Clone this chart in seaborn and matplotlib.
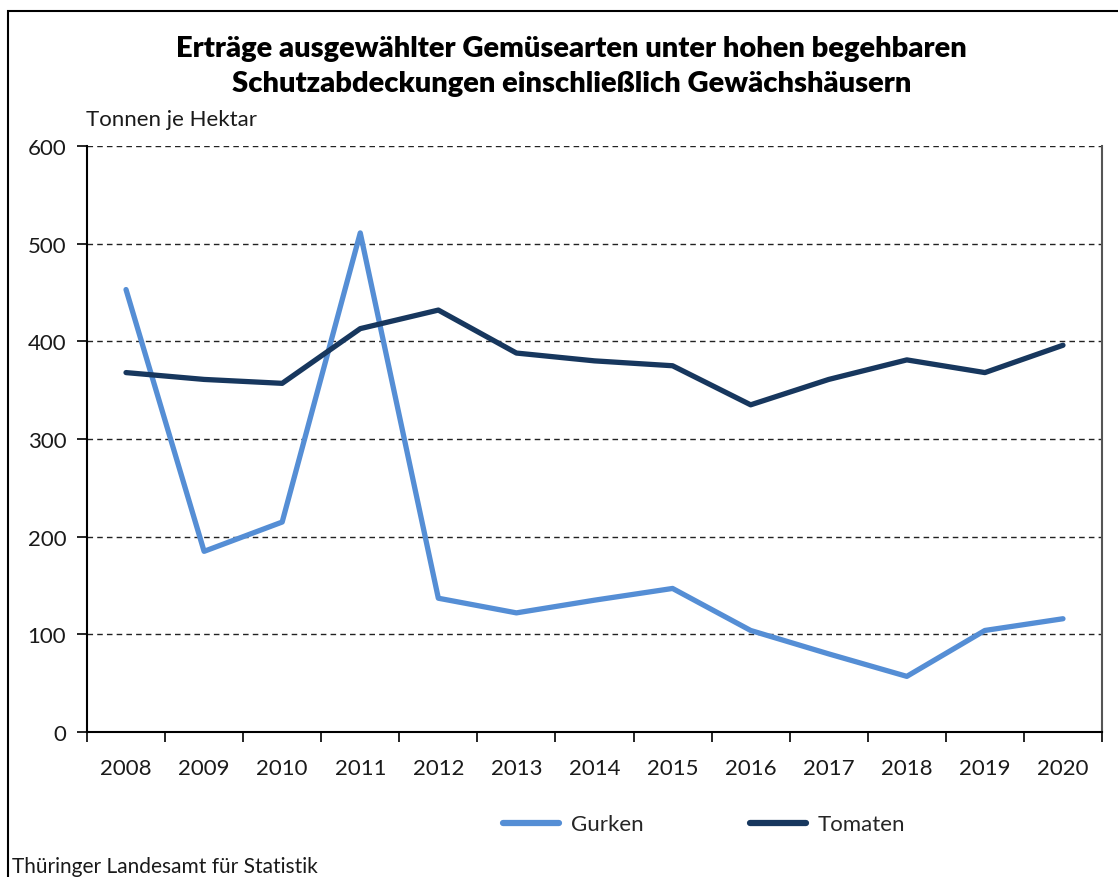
"""
Erträge ausgewählter Gemüsearten unter hohen begehbaren Schutzabdeckungen
"""

import matplotlib
matplotlib.use("Agg")
import matplotlib.pyplot as plt
from matplotlib import ticker
from matplotlib.patches import Rectangle
import pandas as pd
import seaborn as sns

jahre = ["2008", "2009", "2010", "2011", "2012", "2013", "2014",
         "2015", "2016", "2017", "2018", "2019", "2020"]
gurken = [453, 185, 215, 511, 137, 122, 135, 147, 104, 80, 57, 104, 116]
tomaten = [368, 361, 357, 413, 432, 388, 380, 375, 335, 361, 381, 368, 396]

sns.set_theme(style="white")
plt.rcParams["font.family"] = ["Lato", "DejaVu Sans"]

data = pd.concat([
    pd.DataFrame({"Jahr": jahre, "Wert": gurken, "Art": "Gurken"}),
    pd.DataFrame({"Jahr": jahre, "Wert": tomaten, "Art": "Tomaten"}),
])

fig = plt.figure(figsize=(11.18, 8.78), dpi=100)
ax = fig.add_axes([0.0778, 0.1651, 0.9079, 0.6675])

sns.lineplot(data=data, x="Jahr", y="Wert", hue="Art",
             palette={"Gurken": "#558ED5", "Tomaten": "#17375E"},
             linewidth=3.8, ax=ax, legend=False, sort=False)

ax.set_xlim(-0.5, len(jahre) - 0.5)
ax.set_ylim(0, 600)
ax.yaxis.set_major_locator(ticker.MultipleLocator(100))
ax.xaxis.set_major_locator(ticker.FixedLocator([i - 0.5 for i in range(len(jahre) + 1)]))
ax.xaxis.set_major_formatter(ticker.NullFormatter())
ax.xaxis.set_minor_locator(ticker.FixedLocator(range(len(jahre))))
ax.xaxis.set_minor_formatter(ticker.FixedFormatter(jahre))
ax.tick_params(axis="x", which="major", direction="out", length=7, width=1.2,
               color="black", bottom=True)
ax.tick_params(axis="x", which="minor", length=0, pad=19, labelsize=16,
               labelcolor="#1a1a1a", bottom=True)
ax.tick_params(axis="y", direction="out", length=7, width=1.2, color="black",
               left=True, labelsize=16, labelcolor="#1a1a1a", pad=8)

for y in range(100, 601, 100):
    ax.axhline(y, color="#222222", linewidth=1.0, linestyle=(0, (4, 3)), zorder=0)

ax.set_xlabel("")
ax.set_ylabel("")
for side in ["left", "bottom"]:
    ax.spines[side].set_color("black")
    ax.spines[side].set_linewidth(1.5)
ax.spines["top"].set_visible(False)
ax.spines["right"].set_color("#555555")
ax.spines["right"].set_linewidth(1.5)

fig.text(0.511, 0.924, "Erträge ausgewählter Gemüsearten unter hohen begehbaren\n"
         "Schutzabdeckungen einschließlich Gewächshäusern",
         ha="center", va="center", fontsize=21, fontweight="heavy",
         linespacing=1.42, color="black")
fig.text(0.077, 0.863, "Tonnen je Hektar", ha="left", va="center", fontsize=16,
         color="#1a1a1a")
fig.text(0.011, 0.012, "Thüringer Landesamt für Statistik", ha="left", va="center",
         fontsize=15, color="#1a1a1a")

handles = [plt.Line2D([], [], color="#558ED5", linewidth=4.5, solid_capstyle="round"),
           plt.Line2D([], [], color="#17375E", linewidth=4.5, solid_capstyle="round")]
fig.legend(handles, ["Gurken", "Tomaten"], loc="center", bbox_to_anchor=(0.630, 0.06),
           ncol=2, frameon=False, fontsize=16, handlelength=2.5, handletextpad=0.55,
           columnspacing=4.8)

fig.patches.append(Rectangle((0.007, -0.05), 1.2, 1.036, transform=fig.transFigure,
                             fill=False, edgecolor="black", linewidth=1.5))

fig.savefig("out.png", dpi=100)
